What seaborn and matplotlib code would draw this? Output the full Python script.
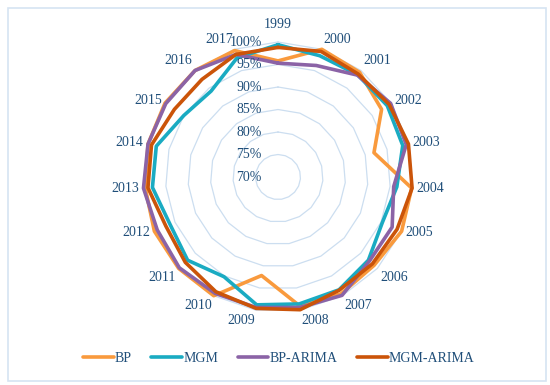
import numpy as np
import pandas as pd
import matplotlib
matplotlib.use('Agg')
import matplotlib.pyplot as plt
import matplotlib.transforms as mtransforms
from matplotlib.patches import Rectangle
import seaborn as sns

years = [str(y) for y in range(1999, 2018)]
bp = [95.8, 100.0, 99.5, 97.5, 92.0, 99.8, 100.0, 99.0, 99.5, 99.0,
      92.2, 100.0, 100.0, 100.0, 99.6, 99.8, 100.0, 100.0, 99.7]
mgm = [99.4, 98.5, 98.8, 99.0, 98.6, 96.5, 95.3, 97.3, 98.5, 98.6,
       98.8, 95.2, 97.3, 96.2, 98.0, 97.9, 95.0, 94.2, 98.0]
bp_arima = [95.3, 96.2, 98.7, 99.9, 99.4, 95.8, 97.7, 97.6, 99.9, 99.4,
            99.4, 99.4, 99.8, 99.3, 100.0, 99.8, 99.8, 100.0, 98.8]
mgm_arima = [98.8, 99.5, 99.0, 99.5, 99.9, 99.9, 98.9, 98.5, 98.6, 99.9,
             99.6, 99.0, 98.0, 97.2, 99.0, 99.0, 97.5, 97.5, 98.8]
series = {'BP': bp, 'MGM': mgm, 'BP-ARIMA': bp_arima, 'MGM-ARIMA': mgm_arima}
colors = ['#F99A3D', '#1AABC2', '#8B63A6', '#CB5409']
rings = [75, 80, 85, 90, 95, 100]
tick_vals = [70, 75, 80, 85, 90, 95, 100]

text_color = '#1F4E79'
sns.set_style('white')
plt.rcParams['font.family'] = ['Liberation Serif', 'DejaVu Serif']

n = len(years)
theta = np.linspace(0, 2 * np.pi, n, endpoint=False)

# long table, each series closed back to its first point
rows = []
for name, vals in series.items():
    for t, v in zip(list(theta) + [2 * np.pi], vals + [vals[0]]):
        rows.append({'theta': t, 'value': v, 'model': name})
df = pd.DataFrame(rows)

fig = plt.figure(figsize=(5.5, 3.85), dpi=100)
fig.patches.append(Rectangle((8 / 550, 4 / 385), 538 / 550, 373 / 385,
                             transform=fig.transFigure, fill=False,
                             edgecolor='#D6E4F2', lw=1.2))

ax = fig.add_axes([0.26, 0.1896, 0.4909, 0.7013], projection='polar')
ax.set_theta_zero_location('N')
ax.set_theta_direction(-1)
ax.set_ylim(70, 100)
ax.grid(False)
ax.spines['polar'].set_visible(False)
ax.set_yticks([])
ax.set_xticks([])

# polygon grid rings
for r in rings:
    ax.plot(list(theta) + [0], [r] * (n + 1), color='#CCDEF0', lw=0.9, zorder=1)

sns.lineplot(data=df, x='theta', y='value', hue='model', sort=False,
             estimator=None, palette=colors, lw=2.6, ax=ax, legend=False)
for line in ax.lines:
    line.set_clip_on(False)
ax.set_xlabel('')
ax.set_ylabel('')

# category labels anchored just outside the outer ring, Excel style
for t, yr in zip(theta, years):
    s, c = np.sin(t), np.cos(t)
    ha = 'left' if s > 0.1 else ('right' if s < -0.1 else 'center')
    va = 'bottom' if c > 0.6 else ('top' if c < -0.6 else 'center')
    gap = 11 if yr == '1999' else 4
    tr = mtransforms.offset_copy(ax.transData, fig=fig, x=gap * s, y=gap * c,
                                 units='dots')
    ax.text(t, 100, yr, transform=tr, ha=ha, va=va, color=text_color,
            fontsize=10, clip_on=False)

off = mtransforms.offset_copy(ax.transData, fig=fig, x=-16, y=0, units='dots')
for r in tick_vals:
    ax.text(0, r, f'{r}%', transform=off, ha='right', va='center',
            color=text_color, fontsize=10)

handles = [plt.Line2D([0], [0], color=c, lw=2.6) for c in colors]
fig.legend(handles, list(series.keys()), loc='center', ncol=4,
           bbox_to_anchor=(0.507, 0.07), frameon=False, fontsize=10,
           handlelength=2.2, handletextpad=0.1, columnspacing=1.4,
           labelcolor=text_color)

fig.savefig('out.png', dpi=100)
